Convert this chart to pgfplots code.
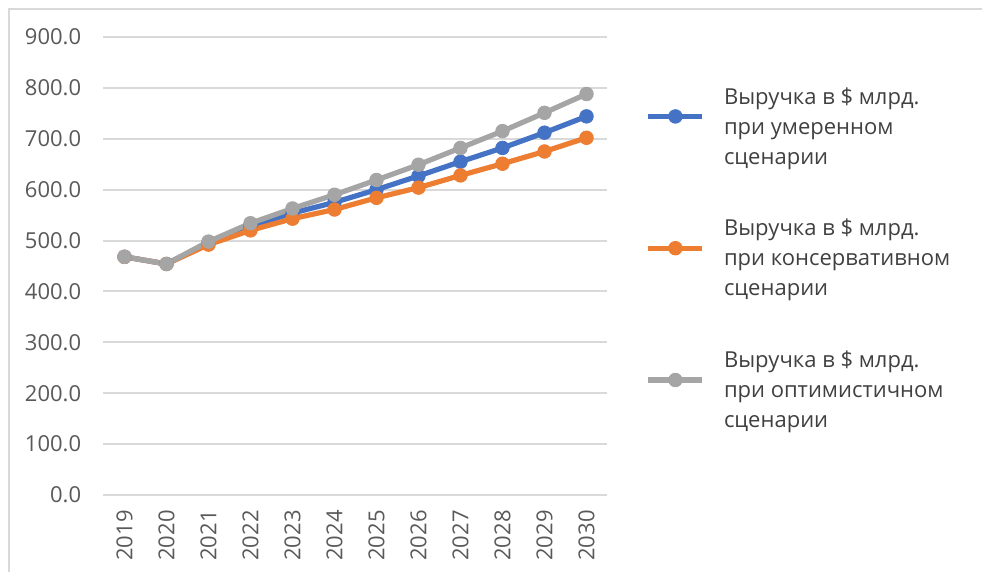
\documentclass[border=0pt]{standalone}
\usepackage{pgfplots}
\pgfplotsset{compat=1.18}
\usepackage{fontspec}
\setmainfont{Open Sans}
\definecolor{cblue}{HTML}{4472C4}
\definecolor{corange}{HTML}{ED7D31}
\definecolor{cgray}{HTML}{A5A5A5}
\definecolor{gridgray}{HTML}{D9D9D9}
\definecolor{bordergray}{HTML}{D9D9D9}
\definecolor{ticktext}{HTML}{595959}
\definecolor{legendtext}{HTML}{404040}
\newcommand{\entry}[3]{\parbox[b][64.25pt][t]{130pt}{\strut #1\\\strut #2\\\strut #3}}
\begin{document}
\fontsize{11pt}{15pt}\selectfont
\begin{tikzpicture}
\useasboundingbox (0,0) rectangle (491pt,286pt);
\draw[color=bordergray, line width=0.75pt] (4.5pt,0pt) -- (4.5pt,281.5pt) -- (491pt,281.5pt);
\begin{axis}[
  at={(51.75pt,38.5pt)}, anchor=south west,
  scale only axis, width=252pt, height=229pt,
  xmin=-0.5, xmax=11.5, ymin=0, ymax=900,
  xtick={0,1,2,3,4,5,6,7,8,9,10,11},
  xticklabels={2019,2020,2021,2022,2023,2024,2025,2026,2027,2028,2029,2030},
  ytick={0,100,200,300,400,500,600,700,800,900},
  ymajorgrids, grid style={color=gridgray, line width=1pt},
  axis line style={draw=none},
  major tick length=0pt,
  tick label style={font=\fontsize{11pt}{13pt}\selectfont, color=ticktext},
  yticklabel style={anchor=east, inner sep=0pt, /pgf/number format/.cd, fixed, fixed zerofill, precision=1, assume math mode=true},
  yticklabel shift=11pt,
  xticklabel style={rotate=90, anchor=east, inner sep=0pt},
  xticklabel shift=7.5pt,
  clip=false,
  every axis plot/.append style={line width=2.6pt, mark=*, mark size=3.4pt, mark options={line width=0.4pt}},
  legend style={at={(axis description cs:1.076,0.8995)}, anchor=north west, draw=none, fill=none,
    inner sep=0pt, outer sep=0pt, column sep=9.5pt, row sep=0pt,
    nodes={inner sep=0pt, font=\fontsize{11pt}{15pt}\selectfont, text=legendtext}},
  legend cell align=left,
  legend image code/.code={\draw[mark repeat=2, mark phase=2, #1] plot coordinates {(0pt,16.25pt) (13.5pt,16.25pt) (27pt,16.25pt)};},
]
\addplot[color=cblue] coordinates {(0,468) (1,454) (2,495) (3,528) (4,554) (5,575) (6,600) (7,627) (8,655) (9,682) (10,712) (11,744)};
\addlegendentry{\entry{Выручка в \$ млрд.}{при умеренном}{сценарии}}
\addplot[color=corange] coordinates {(0,468) (1,454) (2,492) (3,520) (4,543) (5,561) (6,584) (7,604) (8,628) (9,651) (10,675) (11,702)};
\addlegendentry{\entry{Выручка в \$ млрд.}{при консервативном}{сценарии}}
\addplot[color=cgray] coordinates {(0,468) (1,454) (2,498) (3,534) (4,563) (5,590) (6,619) (7,649) (8,682) (9,715) (10,751) (11,788)};
\addlegendentry{\entry{Выручка в \$ млрд.}{при оптимистичном}{сценарии}}
\end{axis}
\end{tikzpicture}
\end{document}
